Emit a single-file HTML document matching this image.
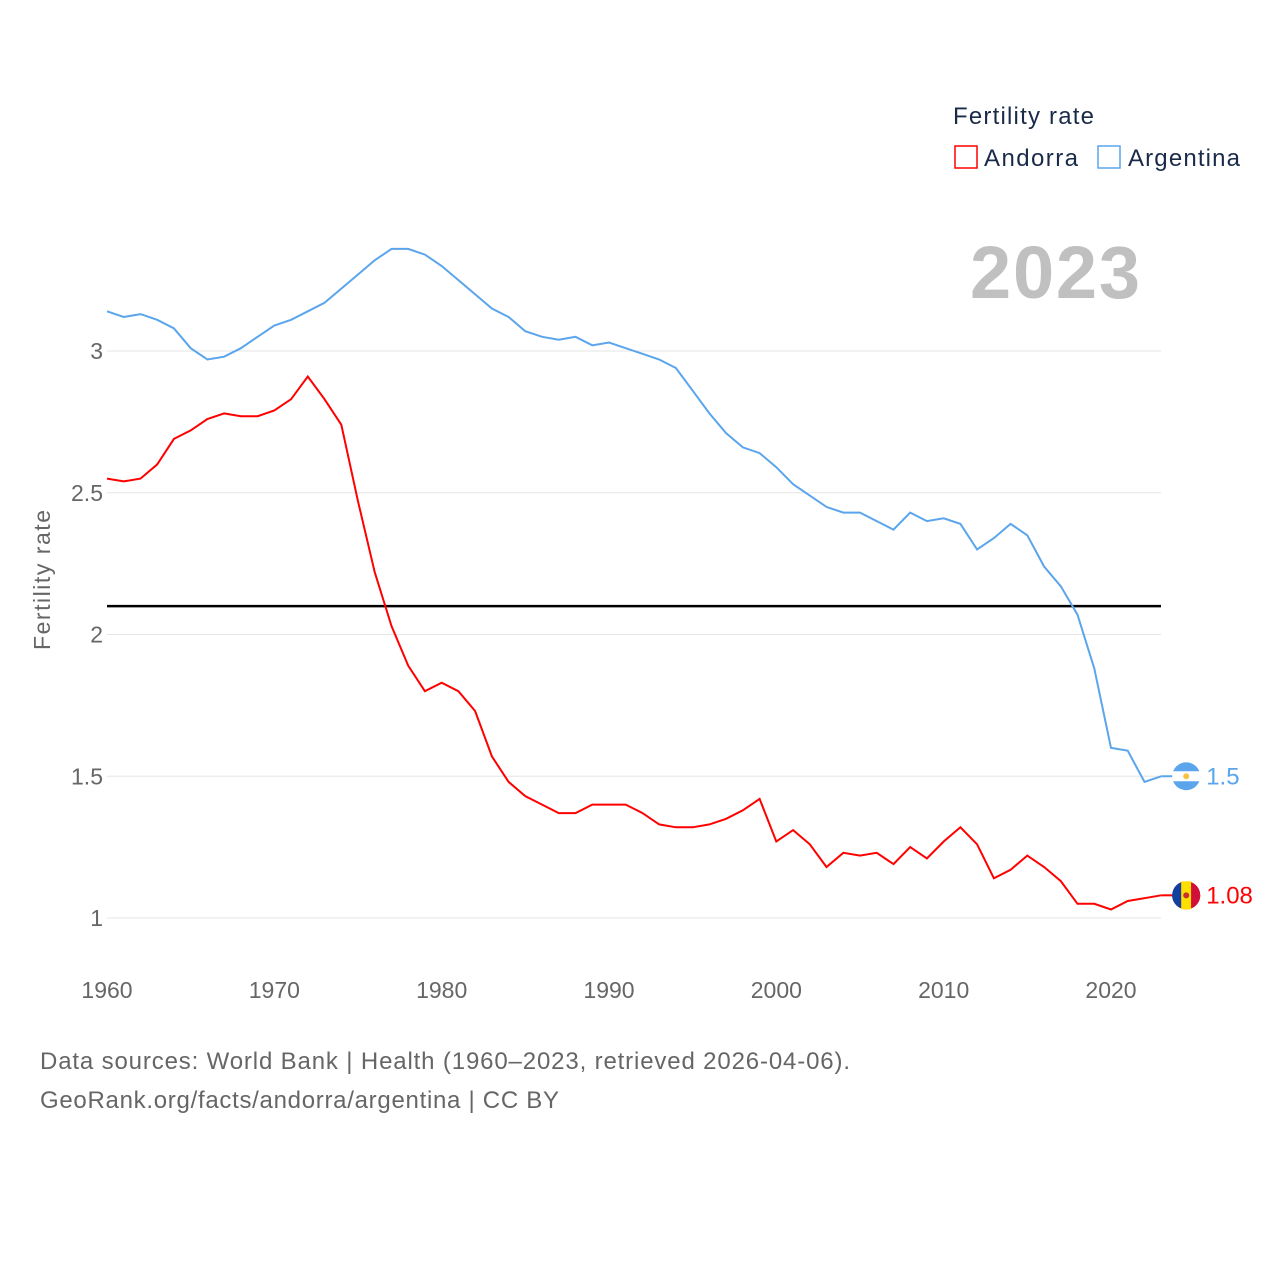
<!DOCTYPE html>
<html><head><meta charset="utf-8"><style>
body{margin:0;background:#fff;}
svg{display:block;font-family:"Liberation Sans",sans-serif;}
</style></head><body>
<svg id="chart" width="1280" height="1280">
<g id="grid"></g>
<g id="yticks"></g>
<g id="xticks"></g>
<text x="50" y="580" transform="rotate(-90 50 580)" text-anchor="middle" font-size="23" fill="#666" textLength="140">Fertility rate</text>
<text x="970" y="298" font-size="74" font-weight="bold" fill="#c0c0c0" textLength="170">2023</text>
<text x="953" y="124" font-size="24" fill="#1a2b4a" textLength="141">Fertility rate</text>
<g><rect x="955" y="146" width="22" height="22" fill="none" stroke="#f00" stroke-width="1.5"/><text x="984" y="166" font-size="24" fill="#1a2b4a" textLength="94">Andorra</text></g>
<g><rect x="1098" y="146" width="22" height="22" fill="none" stroke="#5aa5ec" stroke-width="1.5"/><text x="1128" y="166" font-size="24" fill="#1a2b4a" textLength="112">Argentina</text></g>
<g id="series"></g>
<text x="40" y="1069" font-size="24" fill="#666" textLength="810">Data sources: World Bank | Health (1960–2023, retrieved 2026-04-06).</text>
<text x="40" y="1108" font-size="24" fill="#666" textLength="519">GeoRank.org/facts/andorra/argentina | CC BY</text>
</svg>
<script>
const years=[];for(let y=1960;y<=2023;y++)years.push(y);
const andorra=[2.55,2.54,2.55,2.60,2.69,2.72,2.76,2.78,2.77,2.77,2.79,2.83,2.91,2.83,2.74,2.47,2.22,2.03,1.89,1.80,1.83,1.80,1.73,1.57,1.48,1.43,1.40,1.37,1.37,1.40,1.40,1.40,1.37,1.33,1.32,1.32,1.33,1.35,1.38,1.42,1.27,1.31,1.26,1.18,1.23,1.22,1.23,1.19,1.25,1.21,1.27,1.32,1.26,1.14,1.17,1.22,1.18,1.13,1.05,1.05,1.03,1.06,1.07,1.08];
const argentina=[3.14,3.12,3.13,3.11,3.08,3.01,2.97,2.98,3.01,3.05,3.09,3.11,3.14,3.17,3.22,3.27,3.32,3.36,3.36,3.34,3.30,3.25,3.20,3.15,3.12,3.07,3.05,3.04,3.05,3.02,3.03,3.01,2.99,2.97,2.94,2.86,2.78,2.71,2.66,2.64,2.59,2.53,2.49,2.45,2.43,2.43,2.40,2.37,2.43,2.40,2.41,2.39,2.30,2.34,2.39,2.35,2.24,2.17,2.07,1.88,1.60,1.59,1.48,1.50];
const yTicks=[1,1.5,2,2.5,3];
const xTicks=[1960,1970,1980,1990,2000,2010,2020];
const replacement=2.1;
const NS="http://www.w3.org/2000/svg";
const X=y=>107+(y-1960)*(1111-107)/60;
const Y=v=>918-(v-1)*283.5;
function el(t,a,p){const e=document.createElementNS(NS,t);for(const k in a)e.setAttribute(k,a[k]);p.appendChild(e);return e;}
const grid=document.getElementById('grid'),yt=document.getElementById('yticks'),xt=document.getElementById('xticks'),ser=document.getElementById('series');
yTicks.forEach(v=>{
 const l=el('line',{x1:107,x2:1161,y1:Y(v),y2:Y(v),stroke:'#e6e6e6','stroke-width':1},grid);
 
 
 const t=el('text',{x:103,y:Y(v)+8,'text-anchor':'end','font-size':23,fill:'#666'},yt);t.textContent=v;
 
 
});
xTicks.forEach(v=>{
 const t=el('text',{x:X(v),y:998,'text-anchor':'middle','font-size':23,fill:'#666'},xt);t.textContent=v;
 
 
});
const rl=el('line',{x1:107,x2:1161,y1:Y(replacement),y2:Y(replacement),stroke:'#000','stroke-width':2.5},ser);


function line(vals,color,name,label){
 const d=vals.map((v,i)=>(i?'L':'M')+X(years[i]).toFixed(1)+','+Y(v).toFixed(1)).join('');
 const p=el('path',{d:d,fill:'none',stroke:color,'stroke-width':2},ser);
 
 
 const lv=vals[vals.length-1],ly=Y(lv),lx=X(years[years.length-1]);
 el('line',{x1:lx,x2:lx+14,y1:ly,y2:ly,stroke:color,'stroke-width':2},ser);
 const c=el('circle',{cx:lx+25,cy:ly,r:14,fill:color},ser);
 
 
 if(name==='argentina'){el('rect',{x:lx+11,y:ly-5,width:28,height:10,fill:'#fff'},ser);el('circle',{cx:lx+25,cy:ly,r:3,fill:'#f6c343'},ser);}
 else{
  el('path',{d:`M${lx+20},${ly-13.1}A14,14 0 0 0 ${lx+20},${ly+13.1}Z`,fill:'#1040a0'},ser);
  el('rect',{x:lx+20,y:ly-14,width:10,height:28,fill:'#fedf00'},ser);
  el('path',{d:`M${lx+30},${ly-13.1}A14,14 0 0 1 ${lx+30},${ly+13.1}Z`,fill:'#d0103a'},ser);
  el('circle',{cx:lx+25,cy:ly,r:3,fill:'#c7302f'},ser);
 }
 const t=el('text',{x:lx+45,y:ly+8,'font-size':24,fill:color},ser);t.textContent=label;
 
 
}
line(argentina,'#5aa5ec','argentina','1.5');
line(andorra,'#ff0000','andorra','1.08');
</script>
</body></html>
